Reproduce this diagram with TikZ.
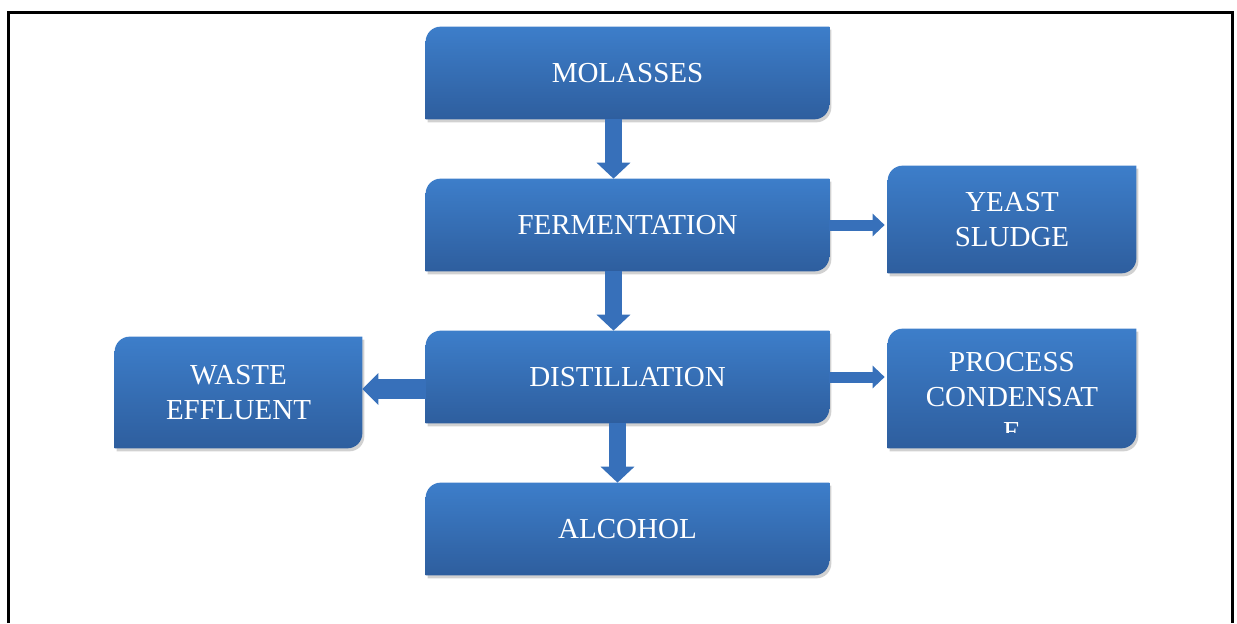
\documentclass[tikz,border=0pt]{standalone}
\usepackage{fontspec}
\setmainfont{Liberation Serif}
\usetikzlibrary{arrows.meta,backgrounds,shadows}
\definecolor{boxtop}{RGB}{61,126,202}
\definecolor{boxbot}{RGB}{46,94,158}
\definecolor{arrowblue}{RGB}{55,112,186}
\begin{document}
\begin{tikzpicture}
  [every node/.style={inner sep=0, align=center, text=white, font=\fontsize{16.5}{20}\selectfont},
   mainbox/.style={minimum width=8.06cm, minimum height=1.84cm},
   sidebox/.style={minimum width=4.96cm},
   flow/.style={draw=arrowblue, line width=0.34cm, -{Triangle[width=0.66cm,length=0.32cm]}},
   sideflow/.style={draw=arrowblue, line width=0.22cm, -{Triangle[width=0.44cm,length=0.24cm]}},
   wasteflow/.style={draw=arrowblue, line width=0.4cm, -{Triangle[width=0.62cm,length=0.32cm]}}]

  \useasboundingbox (0,0) rectangle (24.74,12.46);
  \draw[line width=0.06cm] (0.17,0) -- (0.17,12.21) -- (24.65,12.21) -- (24.65,0);

  \node[mainbox] (mol) at (12.55, 11.0) {MOLASSES};
  \node[mainbox] (fer) at (12.55, 7.96) {FERMENTATION};
  \node[mainbox] (dis) at (12.55, 4.92) {DISTILLATION};
  \node[mainbox] (alc) at (12.55, 1.88) {ALCOHOL};
  \node[sidebox, minimum height=2.14cm] (yea) at (20.24, 8.07) {YEAST\\SLUDGE};
  \node[sidebox, minimum height=2.22cm, minimum width=4.94cm] (was) at (4.77, 4.61) {WASTE\\EFFLUENT};
  \node[sidebox, minimum height=2.38cm] (pro) at (20.24, 4.69) {};

  % the boxes, behind their text
  \begin{scope}[on background layer]
    \foreach \b in {mol,fer,dis,alc,yea,was,pro}
      \shade[top color=boxtop, bottom color=boxbot,
             drop shadow={shadow xshift=0.04cm, shadow yshift=-0.06cm, fill=black, opacity=0.18}]
        (\b.south west) -- ([yshift=-0.3cm]\b.north west)
        arc[start angle=180, end angle=90, radius=0.3cm] -- (\b.north east)
        -- ([yshift=0.3cm]\b.south east)
        arc[start angle=0, end angle=-90, radius=0.3cm] -- cycle;
  \end{scope}

  \begin{scope}
    \clip ([yshift=0.32cm]pro.south west) rectangle (pro.north east);
    \node (protxt) at (20.24, 4.52) {PROCESS\\CONDENSAT\\E};
  \end{scope}

  \coordinate (disout) at ([yshift=-0.24cm]dis.west);

  \draw[flow] ([xshift=-0.28cm]mol.south) -- ([xshift=-0.28cm]fer.north);
  \draw[flow] ([xshift=-0.28cm]fer.south) -- ([xshift=-0.28cm]dis.north);
  \draw[flow] ([xshift=-0.2cm]dis.south) -- ([xshift=-0.2cm]alc.north);
  \draw[sideflow] (fer.east) -- ([xshift=-0.06cm]yea.west |- fer.east);
  \draw[sideflow] (dis.east) -- ([xshift=-0.06cm]pro.west |- dis.east);
  \draw[wasteflow] (disout) -- (was.east |- disout);

\end{tikzpicture}
\end{document}
